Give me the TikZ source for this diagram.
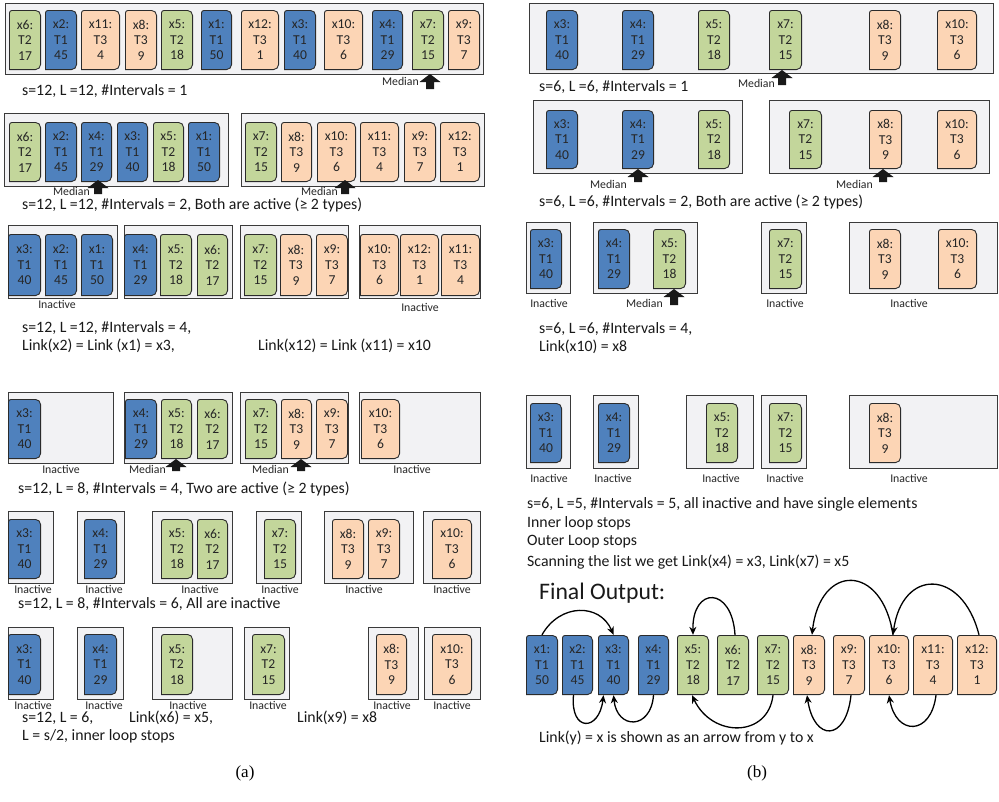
\documentclass[tikz,border=0pt]{standalone}
\usepackage{fontspec}
\setmainfont{Carlito}
\newfontfamily\capserif{Liberation Serif}
\usetikzlibrary{arrows.meta,calc}
\definecolor{cB}{HTML}{4F81BD}
\definecolor{cG}{HTML}{C3D69B}
\definecolor{cO}{HTML}{FCD5B5}
\definecolor{boxfill}{HTML}{F2F2F4}
\definecolor{boxline}{HTML}{3A3A3A}
\definecolor{cardline}{HTML}{2B2B2B}
\tikzset{
 card/.style={inner sep=0pt, align=center, text=black!85, font=\fontsize{13.6}{15.5}\selectfont,
   path picture={\draw[line width=0.9pt, draw=cardline, fill=#1]
     ([xshift=0.45pt,yshift=0.45pt]path picture bounding box.south west)
     [rounded corners=2.5pt] -- ([xshift=0.45pt,yshift=-0.45pt]path picture bounding box.north west)
     [rounded corners=5pt] -- ([xshift=-0.45pt,yshift=-0.45pt]path picture bounding box.north east)
     -- ([xshift=-0.45pt,yshift=0.45pt]path picture bounding box.south east)
     [sharp corners] -- cycle;}},
 grp/.style={draw=boxline, fill=boxfill, line width=1pt, inner sep=0pt},
 lbl/.style={font=\fontsize{11.8}{13}\selectfont, text=black!85, inner sep=0pt},
 captxt/.style={font=\fontsize{15.8}{18}\selectfont, anchor=west, inner sep=0pt, text=black!90},
 link/.style={line width=1.3pt, -{Stealth[length=8pt,width=7pt]}},
}
\newcommand\cd[7]{\node[card=#4, minimum width={(#3-#2)*1pt}, minimum height={(\yb-\yt)*1pt}] (#1) at ({(#2+#3)/2},{(\yt+\yb)/2}) {#5:\\#6\\#7};}
\newcommand\gp[5]{\node[grp, minimum width={(#4-#2)*1pt}, minimum height={(#5-#3)*1pt}] (#1) at ({(#2+#4)/2},{(#3+#5)/2}) {};}
\newcommand\med[6]{\fill[black!90] (#2,#3) -- ({#2+10.5},{#3+8}) -- ({#2+4},{#3+8}) -- ({#2+4},#4) -- ({#2-4},#4) -- ({#2-4},{#3+8}) -- ({#2-10.5},{#3+8}) -- cycle;
 \node[lbl, anchor=east] (#1) at (#5,#6) {Median};}
\newcommand\ina[3]{\node[lbl] (#1) at (#2,#3) {Inactive};}
\begin{document}
\begin{tikzpicture}[x=1pt,y=-1pt]
\fill[white] (0,0) rectangle (999,801);
\useasboundingbox (0,0) rectangle (999,801);
% ---------------- (a) row 1
\def\yt{10}\def\yb{70}
\gp{ga1}{5}{3}{483}{74}
\cd{a1x6}{9}{41}{cG}{x6}{T2}{17}
\cd{a1x2}{45}{77}{cB}{x2}{T1}{45}
\cd{a1x11}{81}{120}{cO}{x11}{T3}{4}
\cd{a1x8}{125}{157}{cO}{x8}{T3}{9}
\cd{a1x5}{161}{193}{cG}{x5}{T2}{18}
\cd{a1x1}{201}{232}{cB}{x1}{T1}{50}
\cd{a1x12}{241}{279}{cO}{x12}{T3}{1}
\cd{a1x3}{284}{316}{cB}{x3}{T1}{40}
\cd{a1x10}{324}{363}{cO}{x10}{T3}{6}
\cd{a1x4}{372}{403}{cB}{x4}{T1}{29}
\cd{a1x7}{412}{444}{cG}{x7}{T2}{15}
\cd{a1x9}{448}{480}{cO}{x9}{T3}{7}
\med{ma1}{430}{74}{89}{419}{81}
\node[captxt] (ca1) at (22,91) {s=12, L =12, \#Intervals = 1};
% ---------------- (a) row 2
\def\yt{122}\def\yb{182}
\gp{ga2a}{4}{113}{228}{186}
\gp{ga2b}{241}{113}{484}{186}
\cd{a2x6}{9}{41}{cG}{x6}{T2}{17}
\cd{a2x2}{45}{77}{cB}{x2}{T1}{45}
\cd{a2x4}{81}{112}{cB}{x4}{T1}{29}
\cd{a2x3}{117}{148}{cB}{x3}{T1}{40}
\cd{a2x5}{153}{184}{cG}{x5}{T2}{18}
\cd{a2x1}{188}{220}{cB}{x1}{T1}{50}
\cd{a2x7}{245}{277}{cG}{x7}{T2}{15}
\cd{a2x8}{281}{312}{cO}{x8}{T3}{9}
\cd{a2x10}{317}{356}{cO}{x10}{T3}{6}
\cd{a2x11}{360}{399}{cO}{x11}{T3}{4}
\cd{a2x9}{404}{436}{cO}{x9}{T3}{7}
\cd{a2x12}{440}{480}{cO}{x12}{T3}{1}
\med{ma2a}{98}{180}{194}{90}{191}
\med{ma2b}{345}{180}{194}{338}{191}
\node[captxt] (ca2) at (22,205) {s=12, L =12, \#Intervals = 2, Both are active (≥ 2 types)};
% ---------------- (a) row 3
\def\yt{234}\def\yb{296}
\gp{ga3a}{8}{225}{117}{298}
\gp{ga3b}{124}{225}{232}{298}
\gp{ga3c}{240}{225}{348}{298}
\gp{ga3d}{359}{225}{480}{298}
\cd{a3x3}{8}{41}{cB}{x3}{T1}{40}
\cd{a3x2}{45}{77}{cB}{x2}{T1}{45}
\cd{a3x1}{81}{113}{cB}{x1}{T1}{50}
\cd{a3x4}{124}{157}{cB}{x4}{T1}{29}
\cd{a3x5}{160}{192}{cG}{x5}{T2}{18}
\cd{a3x6}{197}{228}{cG}{x6}{T2}{17}
\cd{a3x7}{244}{277}{cG}{x7}{T2}{15}
\cd{a3x8}{280}{312}{cO}{x8}{T3}{9}
\cd{a3x9}{316}{348}{cO}{x9}{T3}{7}
\cd{a3x10}{360}{399}{cO}{x10}{T3}{6}
\cd{a3x12}{400}{439}{cO}{x12}{T3}{1}
\cd{a3x11}{441}{480}{cO}{x11}{T3}{4}
\ina{ia3a}{57}{304}
\ina{ia3b}{420}{307}
\node[captxt] (ca3) at (22,328) {s=12, L =12, \#Intervals = 4,};
\node[captxt] (ca3b) at (22,346) {Link(x2) = Link (x1) = x3,};
\node[captxt] (ca3c) at (258,346) {Link(x12) = Link (x11) = x10};
% ---------------- (a) row 4
\def\yt{399}\def\yb{459}
\gp{ga4a}{8}{392}{113}{463}
\gp{ga4b}{124}{392}{232}{463}
\gp{ga4c}{240}{392}{348}{463}
\gp{ga4d}{359}{392}{480}{463}
\cd{a4x3}{8}{41}{cB}{x3}{T1}{40}
\cd{a4x4}{125}{157}{cB}{x4}{T1}{29}
\cd{a4x5}{161}{192}{cG}{x5}{T2}{18}
\cd{a4x6}{197}{228}{cG}{x6}{T2}{17}
\cd{a4x7}{245}{277}{cG}{x7}{T2}{15}
\cd{a4x8}{281}{312}{cO}{x8}{T3}{9}
\cd{a4x9}{316}{348}{cO}{x9}{T3}{7}
\cd{a4x10}{361}{400}{cO}{x10}{T3}{6}
\ina{ia4a}{61}{469}
\ina{ia4b}{412}{469}
\med{ma4a}{176}{459}{471}{166}{469}
\med{ma4b}{301}{459}{471}{289}{469}
\node[captxt] (ca4) at (18,489) {s=12, L = 8, \#Intervals = 4, Two are active (≥ 2 types)};
% ---------------- (a) row 5
\def\yt{519}\def\yb{579}
\gp{ga5a}{8}{511}{53}{583}
\gp{ga5b}{77}{511}{124}{583}
\gp{ga5c}{152}{511}{232}{583}
\gp{ga5d}{256}{511}{301}{583}
\gp{ga5e}{324}{511}{413}{583}
\gp{ga5f}{423}{511}{480}{583}
\cd{a5x3}{8}{41}{cB}{x3}{T1}{40}
\cd{a5x4}{84}{117}{cB}{x4}{T1}{29}
\cd{a5x5}{161}{193}{cG}{x5}{T2}{18}
\cd{a5x6}{197}{228}{cG}{x6}{T2}{17}
\cd{a5x7}{264}{296}{cG}{x7}{T2}{15}
\cd{a5x8}{332}{364}{cO}{x8}{T3}{9}
\cd{a5x9}{368}{400}{cO}{x9}{T3}{7}
\cd{a5x10}{432}{472}{cO}{x10}{T3}{6}
\ina{ia5a}{33}{589}
\ina{ia5b}{104}{589}
\ina{ia5c}{200}{589}
\ina{ia5d}{280}{589}
\ina{ia5e}{364}{589}
\ina{ia5f}{452}{589}
\node[captxt] (ca5) at (18,604) {s=12, L = 8, \#Intervals = 6, All are inactive};
% ---------------- (a) row 6
\def\yt{634}\def\yb{695}
\gp{ga6a}{8}{627}{53}{699}
\gp{ga6b}{77}{627}{123}{699}
\gp{ga6c}{152}{627}{232}{699}
\gp{ga6d}{244}{627}{289}{699}
\gp{ga6e}{368}{627}{418}{699}
\gp{ga6f}{424}{627}{480}{699}
\cd{a6x3}{8}{41}{cB}{x3}{T1}{40}
\cd{a6x4}{84}{117}{cB}{x4}{T1}{29}
\cd{a6x5}{161}{193}{cG}{x5}{T2}{18}
\cd{a6x7}{252}{285}{cG}{x7}{T2}{15}
\cd{a6x8}{376}{407}{cO}{x8}{T3}{9}
\cd{a6x10}{432}{472}{cO}{x10}{T3}{6}
\ina{ia6a}{33}{705}
\ina{ia6b}{104}{705}
\ina{ia6c}{188}{705}
\ina{ia6d}{268}{705}
\ina{ia6e}{392}{705}
\ina{ia6f}{452}{705}
\node[captxt] (ca6) at (22,718) {s=12, L = 6,};
\node[captxt] (ca6b) at (129,718) {Link(x6) = x5,};
\node[captxt] (ca6c) at (297,718) {Link(x9) = x8};
\node[captxt] (ca6d) at (22,736) {L = s/2, inner loop stops};
% ---------------- (b) row 1
\def\yt{10}\def\yb{70}
\gp{gb1}{529}{3}{993}{73}
\cd{b1x3}{546}{578}{cB}{x3}{T1}{40}
\cd{b1x4}{622}{654}{cB}{x4}{T1}{29}
\cd{b1x5}{698}{730}{cG}{x5}{T2}{18}
\cd{b1x7}{769}{802}{cG}{x7}{T2}{15}
\cd{b1x8}{869}{901}{cO}{x8}{T3}{9}
\cd{b1x10}{937}{977}{cO}{x10}{T3}{6}
\med{mb1}{782}{70}{85}{775}{83}
\node[captxt] (cb1) at (539,87) {s=6, L =6, \#Intervals = 1};
% ---------------- (b) row 2
\def\yt{110}\def\yb{169}
\gp{gb2a}{533}{100}{742}{173}
\gp{gb2b}{769}{100}{989}{173}
\cd{b2x3}{546}{578}{cB}{x3}{T1}{40}
\cd{b2x4}{622}{654}{cB}{x4}{T1}{29}
\cd{b2x5}{698}{730}{cG}{x5}{T2}{18}
\cd{b2x7}{789}{822}{cG}{x7}{T2}{15}
\cd{b2x8}{869}{902}{cO}{x8}{T3}{9}
\cd{b2x10}{937}{977}{cO}{x10}{T3}{6}
\med{mb2a}{638}{169}{182}{627}{184}
\med{mb2b}{883}{169}{182}{873}{184}
\node[captxt] (cb2) at (539,202) {s=6, L =6, \#Intervals = 2, Both are active (≥ 2 types)};
% ---------------- (b) row 3
\def\yt{229}\def\yb{289}
\gp{gb3a}{526}{222}{570}{293}
\gp{gb3b}{593}{222}{697}{293}
\gp{gb3c}{761}{222}{806}{293}
\gp{gb3d}{849}{222}{997}{293}
\cd{b3x3}{530}{562}{cB}{x3}{T1}{40}
\cd{b3x4}{598}{630}{cB}{x4}{T1}{29}
\cd{b3x5}{653}{686}{cG}{x5}{T2}{18}
\cd{b3x7}{769}{802}{cG}{x7}{T2}{15}
\cd{b3x8}{869}{901}{cO}{x8}{T3}{9}
\cd{b3x10}{938}{977}{cO}{x10}{T3}{6}
\ina{ib3a}{549}{303}
\ina{ib3b}{785}{303}
\ina{ib3c}{909}{303}
\med{mb3}{674}{289}{305}{663}{303}
\node[captxt] (cb3) at (539,329) {s=6, L =6, \#Intervals = 4,};
\node[captxt] (cb3b) at (539,347) {Link(x10) = x8};
% ---------------- (b) row 4
\def\yt{403}\def\yb{463}
\gp{gb4a}{526}{395}{570}{468}
\gp{gb4b}{593}{395}{638}{468}
\gp{gb4c}{686}{395}{753}{468}
\gp{gb4d}{761}{395}{806}{468}
\gp{gb4e}{849}{395}{997}{468}
\cd{b4x3}{530}{562}{cB}{x3}{T1}{40}
\cd{b4x4}{598}{630}{cB}{x4}{T1}{29}
\cd{b4x5}{706}{738}{cG}{x5}{T2}{18}
\cd{b4x7}{769}{802}{cG}{x7}{T2}{15}
\cd{b4x8}{869}{901}{cO}{x8}{T3}{9}
\ina{ib4a}{549}{478}
\ina{ib4b}{613}{478}
\ina{ib4c}{721}{478}
\ina{ib4d}{785}{478}
\ina{ib4e}{909}{478}
\node[captxt] (cb4) at (527,504) {s=6, L =5, \#Intervals = 5, all inactive and have single elements};
\node[captxt] (cb4b) at (527,523) {Inner loop stops};
\node[captxt] (cb4c) at (527,542) {Outer Loop stops};
\node[captxt] (cb4d) at (527,562) {Scanning the list we get Link(x4) = x3, Link(x7) = x5};
% ---------------- Final output
\node[anchor=west, inner sep=0pt, font=\fontsize{23.7}{26}\selectfont, text=black!90] (fo) at (539,593) {Final Output:};
\def\yt{635}\def\yb{695}
\cd{f1}{526}{558}{cB}{x1}{T1}{50}
\cd{f2}{562}{593}{cB}{x2}{T1}{45}
\cd{f3}{598}{629}{cB}{x3}{T1}{40}
\cd{f4}{638}{669}{cB}{x4}{T1}{29}
\cd{f5}{677}{709}{cG}{x5}{T2}{18}
\cd{f6}{717}{749}{cG}{x6}{T2}{17}
\cd{f7}{757}{789}{cG}{x7}{T2}{15}
\cd{f8}{793}{825}{cO}{x8}{T3}{9}
\cd{f9}{833}{865}{cO}{x9}{T3}{7}
\cd{f10}{869}{909}{cO}{x10}{T3}{6}
\cd{f11}{913}{953}{cO}{x11}{T3}{4}
\cd{f12}{957}{997}{cO}{x12}{T3}{1}
\draw[link] (f1.north) .. controls (560,603) and (600,603) .. (f3.north);
\draw[link] ([xshift=-4pt]f2.south) .. controls (570,732) and (599,732) .. ([xshift=-10pt]f3.south);
\draw[link] (f4.south) .. controls (651,730) and (617,730) .. (f3.south);
\draw[link] ([xshift=2pt]f6.north) .. controls (732,586) and (692,586) .. (f5.north);
\draw[link] (f7.south) .. controls (768,738) and (712,738) .. ([xshift=-1pt]f5.south);
\draw[link] ([xshift=4pt]f10.north) .. controls (882,563) and (820,563) .. ([xshift=3pt]f8.north);
\draw[link] ([xshift=2pt]f12.north) .. controls (962,568) and (902,568) .. ([xshift=4pt]f10.north);
\draw[link] ([xshift=2pt]f9.south) .. controls (846,742) and (814,742) .. ([xshift=-2pt]f8.south);
\draw[link] ([xshift=3pt]f11.south) .. controls (931,736) and (896,736) .. (f10.south);
\node[captxt] (cf) at (539,738) {Link(y) = x is shown as an arrow from y to x};
% ---------------- sub-captions
\node[font=\capserif\fontsize{17}{20}\selectfont, inner sep=0pt] (pa) at (245,773) {(a)};
\node[font=\capserif\fontsize{17}{20}\selectfont, inner sep=0pt] (pb) at (757,773) {(b)};
\end{tikzpicture}
\end{document}
